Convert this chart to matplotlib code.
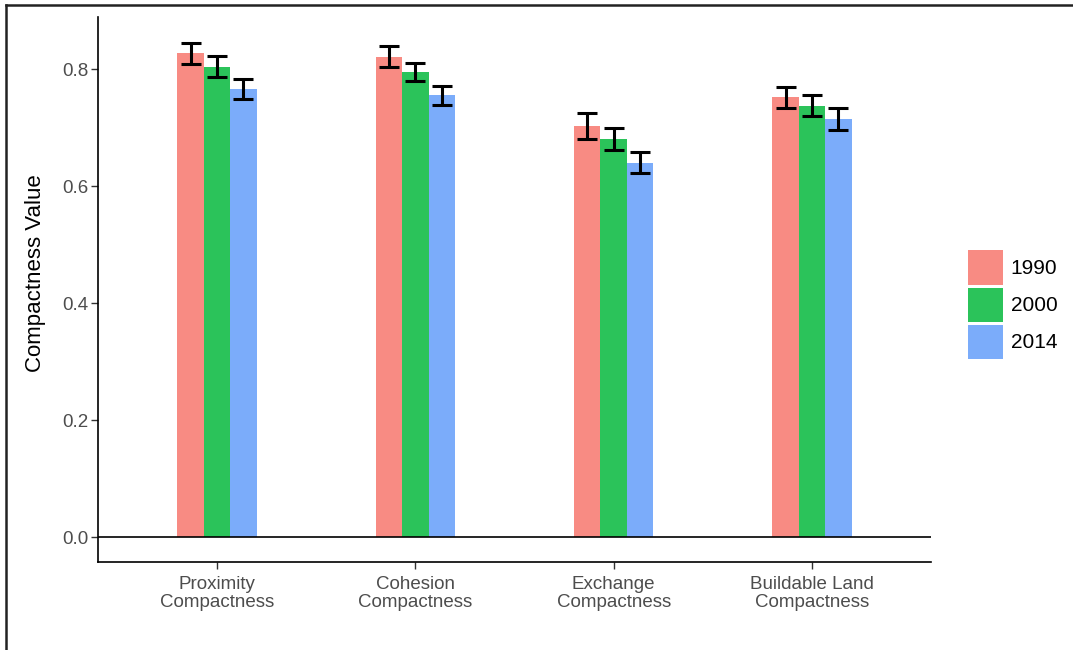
import matplotlib
matplotlib.use("Agg")
import matplotlib.pyplot as plt
import numpy as np
from matplotlib.lines import Line2D
from matplotlib.patches import Patch

plt.rcParams['font.family'] = ['Liberation Sans', 'DejaVu Sans']

# ---- data ----
categories = ['Proximity\nCompactness', 'Cohesion\nCompactness',
              'Exchange\nCompactness', 'Buildable Land\nCompactness']
years = ['1990', '2000', '2014']
values_1990 = [0.827, 0.821, 0.703, 0.752]
values_2000 = [0.804, 0.795, 0.680, 0.737]
values_2014 = [0.766, 0.755, 0.640, 0.714]
err_1990 = [0.018, 0.018, 0.022, 0.018]
err_2000 = [0.018, 0.016, 0.019, 0.018]
err_2014 = [0.017, 0.016, 0.018, 0.019]

colors = ['#F88B83', '#2BC35A', '#7BACFA']

fig = plt.figure(figsize=(10.73, 6.5), dpi=100)
ax = fig.add_axes([98 / 1073, 88 / 650, 833 / 1073, 545 / 650])

x = np.arange(1, len(categories) + 1)
bw = 0.4 / 3
series = [values_1990, values_2000, values_2014]
errs = [err_1990, err_2000, err_2014]
for i, (vals, err) in enumerate(zip(series, errs)):
    pos = x + (i - 1) * bw
    ax.bar(pos, vals, width=bw, color=colors[i], zorder=2)
    ax.errorbar(pos, vals, yerr=err, fmt='none', ecolor='black',
                elinewidth=2.2, capsize=7.5, capthick=2.2, zorder=3)

ax.axhline(0, color='black', linewidth=1.2, zorder=4)

ax.set_xlim(0.4, 4.6)
ax.set_ylim(-0.0427, 0.889)
ax.set_xticks(x)
ax.set_xticklabels(categories, fontsize=13.5, color='#4D4D4D', linespacing=1.1)
ax.set_yticks([0.0, 0.2, 0.4, 0.6, 0.8])
ax.set_yticklabels(['0.0', '0.2', '0.4', '0.6', '0.8'], fontsize=13.5, color='#4D4D4D')
ax.tick_params(axis='both', length=5, width=1, color='#333333', pad=2)
ax.tick_params(axis='x', pad=5)
ax.set_ylabel('Compactness Value', fontsize=16)
ax.yaxis.set_label_coords(-0.063, 0.53)

for side in ['top', 'right']:
    ax.spines[side].set_visible(False)
for side in ['left', 'bottom']:
    ax.spines[side].set_linewidth(1.2)
    ax.spines[side].set_color('black')

handles = [Patch(facecolor=c, edgecolor='none') for c in colors]
fig.legend(handles, years, loc='upper left', bbox_to_anchor=(958 / 1073, 1 - 240 / 650),
           frameon=False, fontsize=15, handlelength=1.68, handleheight=2.14,
           handletextpad=0.35, labelspacing=0.15, borderpad=0)

# outer frame lines (left and top)
fig.add_artist(Line2D([6 / 1073, 6 / 1073], [0, 1 - 5 / 650], transform=fig.transFigure,
                      color='#222222', linewidth=1.8))
fig.add_artist(Line2D([6 / 1073, 1], [1 - 5 / 650, 1 - 5 / 650], transform=fig.transFigure,
                      color='#222222', linewidth=1.8))

fig.savefig('out.png', dpi=100, facecolor='white')
